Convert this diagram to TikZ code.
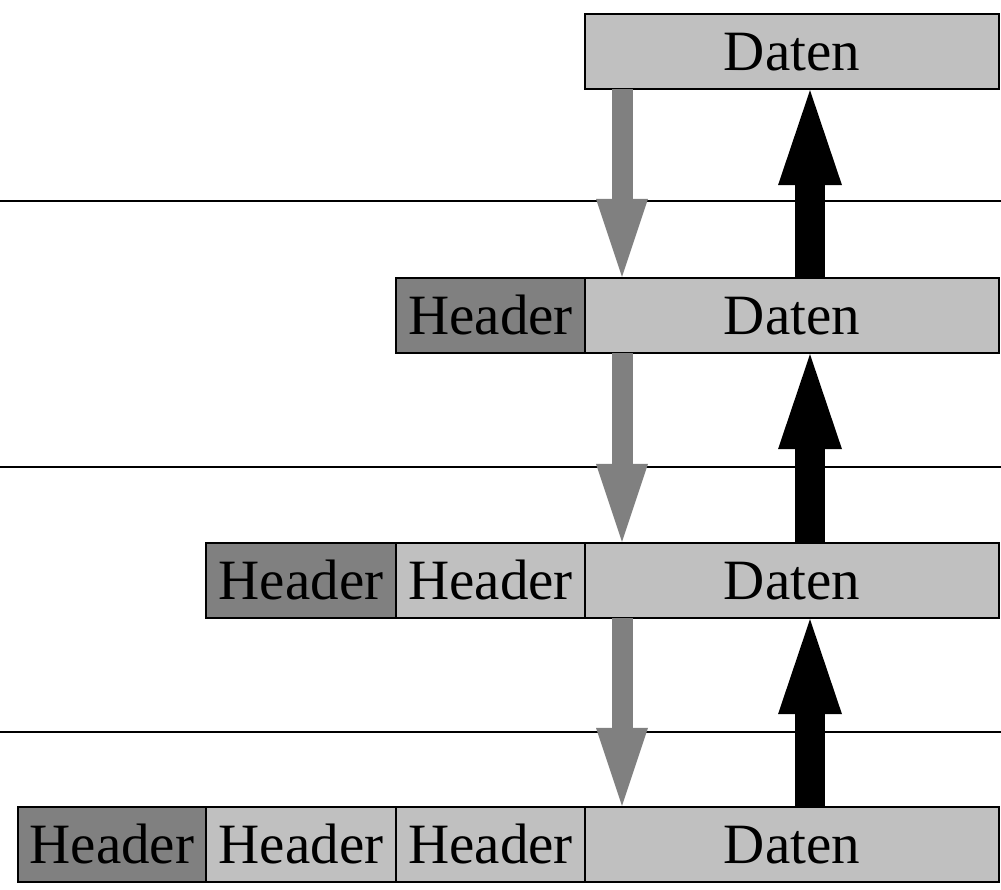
\documentclass[tikz,border=0pt]{standalone}
\usepackage{fontspec}
\setmainfont{Liberation Serif}
\usetikzlibrary{arrows.meta}

\definecolor{lightfill}{RGB}{192,192,192}
\definecolor{darkfill}{RGB}{128,128,128}

\tikzset{
  cell/.style={draw=black, line width=2.4pt, inner sep=0pt, minimum height=75pt,
    font=\fontsize{57}{60}\selectfont, text=black,
    text height=38pt, text depth=0pt},
  datacell/.style={cell, fill=lightfill, minimum width=414pt},
  hdrdark/.style={cell, fill=darkfill},
  hdrlight/.style={cell, fill=lightfill},
  layerline/.style={draw=black, line width=2.2pt},
  downarrow/.style={draw=darkfill, line width=21pt,
    -{Triangle[length=78pt, width=52pt, line width=0pt]}},
  uparrow/.style={draw=black, line width=30pt,
    -{Triangle[length=95pt, width=64pt, line width=0pt]}},
}

\begin{document}
\begin{tikzpicture}[x=1pt, y=-1pt]
  \useasboundingbox (0,0) rectangle (1001,889);

  % layer separators
  \coordinate (l1a) at (0,201);  \coordinate (l1b) at (1001,201);
  \coordinate (l2a) at (0,467);  \coordinate (l2b) at (1001,467);
  \coordinate (l3a) at (0,732);  \coordinate (l3b) at (1001,732);
  \draw[layerline] (l1a) -- (l1b);
  \draw[layerline] (l2a) -- (l2b);
  \draw[layerline] (l3a) -- (l3b);

  % row 1
  \node[datacell] (d1) at (792,51.5) {Daten};
  % row 2
  \node[datacell] (d2) at (792,315.5) {Daten};
  \node[hdrdark, minimum width=189pt] (h21) at (490.5,315.5) {Header};
  % row 3
  \node[datacell] (d3) at (792,580.5) {Daten};
  \node[hdrlight, minimum width=189pt] (h31) at (490.5,580.5) {Header};
  \node[hdrdark, minimum width=190pt] (h32) at (301,580.5) {Header};
  % row 4
  \node[datacell] (d4) at (792,844.5) {Daten};
  \node[hdrlight, minimum width=189pt] (h41) at (490.5,844.5) {Header};
  \node[hdrlight, minimum width=190pt] (h42) at (301,844.5) {Header};
  \node[hdrdark, minimum width=188pt] (h43) at (112,844.5) {Header};

  % arrow columns
  \coordinate (gx) at (622,0);
  \coordinate (bx) at (810,0);

  % downward (gray) arrows
  \draw[downarrow] ([yshift=1pt]d1.south -| gx) -- (d2.north -| gx);
  \draw[downarrow] ([yshift=1pt]d2.south -| gx) -- (d3.north -| gx);
  \draw[downarrow] ([yshift=1pt]d3.south -| gx) -- (d4.north -| gx);

  % upward (black) arrows
  \draw[uparrow] ([yshift=-1pt]d2.north -| bx) -- (d1.south -| bx);
  \draw[uparrow] ([yshift=-1pt]d3.north -| bx) -- (d2.south -| bx);
  \draw[uparrow] ([yshift=-1pt]d4.north -| bx) -- (d3.south -| bx);
\end{tikzpicture}
\end{document}
